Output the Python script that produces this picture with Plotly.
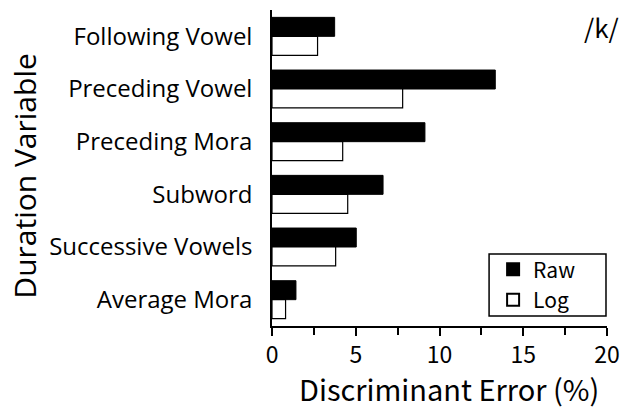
import plotly.graph_objects as go

categories = ["Following Vowel", "Preceding Vowel", "Preceding Mora",
              "Subword", "Successive Vowels", "Average Mora"]
raw_values = [3.74, 13.33, 9.13, 6.63, 5.03, 1.43]
log_values = [2.72, 7.80, 4.22, 4.52, 3.80, 0.81]
x_ticks = [0, 5, 10, 15, 20]

gothic = "Noto Sans CJK JP, Noto Sans, sans-serif"
latin = "Open Sans, Noto Sans, sans-serif"

fig = go.Figure()
fig.add_trace(go.Bar(
    name="Raw", y=categories, x=raw_values, orientation="h",
    marker=dict(color="black", line=dict(color="black", width=1)),
))
fig.add_trace(go.Bar(
    name="Log", y=categories, x=log_values, orientation="h",
    marker=dict(color="white", line=dict(color="black", width=1.2)),
))

fig.update_layout(
    width=622, height=412,
    margin=dict(l=272, r=15, t=10, b=86, autoexpand=False),
    paper_bgcolor="white", plot_bgcolor="white",
    barmode="group", bargap=0.28, bargroupgap=0,
    showlegend=True,
    legend=dict(
        x=0.66, y=0.243, xanchor="left", yanchor="top",
        borderwidth=0, bgcolor="rgba(0,0,0,0)",
        font=dict(family=gothic, size=21, color="black"),
        itemsizing="constant", tracegroupgap=0,
    ),
    xaxis=dict(
        range=[0, 20], tickvals=x_ticks, ticktext=[str(v) for v in x_ticks],
        ticks="outside", ticklen=8, tickwidth=1.5, tickcolor="black",
        minor=dict(dtick=2.5, tick0=0, ticks="outside", ticklen=7,
                   tickwidth=1.5, tickcolor="black", showgrid=False),
        showline=True, linecolor="black", linewidth=1.5,
        showgrid=False, zeroline=False, automargin=False,
        tickfont=dict(family=gothic, size=23, color="black"),
    ),
    yaxis=dict(
        autorange="reversed",
        showline=True, linecolor="black", linewidth=1.5,
        ticks="", showgrid=False, zeroline=False, automargin=False,
        ticklabelstandoff=13,
        tickfont=dict(family=latin, size=24, color="black"),
    ),
    shapes=[dict(
        type="rect", xref="paper", yref="paper",
        x0=0.648, x1=0.997, y0=0.0316, y1=0.228,
        line=dict(color="black", width=1.5), fillcolor="rgba(0,0,0,0)",
        layer="above",
    )],
    annotations=[
        dict(text="/k/", x=1.0, y=1.0, xref="paper", yref="paper",
             xanchor="right", yanchor="top", showarrow=False,
             xshift=14, yshift=4,
             font=dict(family=gothic, size=26, color="black")),
        dict(text="Discriminant Error (%)", x=0.528, y=-0.196,
             xref="paper", yref="paper", xanchor="center", yanchor="middle",
             showarrow=False,
             font=dict(family=gothic, size=29, color="black")),
        dict(text="Duration Variable", x=-0.74, y=0.473,
             xref="paper", yref="paper", xanchor="center", yanchor="middle",
             textangle=-90, showarrow=False,
             font=dict(family=latin, size=30, color="black")),
    ],
)

fig.write_html(
    "out.html",
    config={"displayModeBar": False},
    post_script="document.body.style.margin='0';document.body.style.padding='0';"
                "document.documentElement.style.overflow='hidden';",
)
